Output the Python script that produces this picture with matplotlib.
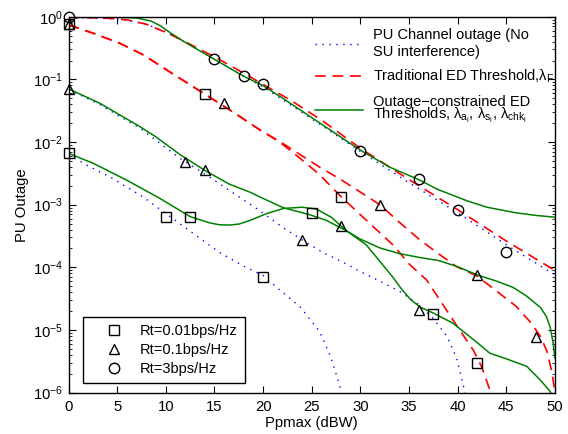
import numpy as np
import matplotlib
matplotlib.use("Agg")
import matplotlib.pyplot as plt

plt.rcParams['font.family'] = ['Liberation Sans', 'DejaVu Sans']
plt.rcParams['mathtext.fontset'] = 'custom'
plt.rcParams['mathtext.rm'] = 'Liberation Sans'
plt.rcParams['mathtext.it'] = 'Liberation Sans'
plt.rcParams['mathtext.bf'] = 'Liberation Sans:bold'

# ---------------- data (x in dBW, outage given as log10 values) -------------
# Rt = 3 bps/Hz
x_rt3_blue = [0, 2, 4, 6, 8, 10, 12, 15, 18, 20, 25, 30, 35, 40, 45, 50]
lg_rt3_blue = [-0.02, -0.022, -0.03, -0.055, -0.12, -0.24, -0.41, -0.68, -0.95, -1.12, -1.63, -2.15, -2.65, -3.13, -3.64, -4.12]
x_rt3_red = [0, 2, 4, 6, 8, 10, 12, 15, 18, 20, 23, 26, 30, 35, 40, 45, 50]
lg_rt3_red = [-0.012, -0.015, -0.025, -0.05, -0.12, -0.25, -0.4, -0.64, -0.9, -1.08, -1.35, -1.65, -2.1, -2.6, -3.08, -3.58, -4.05]
x_rt3_green = [0, 4, 7, 8.5, 9.5, 10.5, 12, 15, 18, 20, 22, 25, 30, 33, 36, 38, 41, 43, 46, 48, 50]
lg_rt3_green = [-0.005, -0.007, -0.02, -0.07, -0.15, -0.26, -0.41, -0.68, -0.95, -1.1, -1.3, -1.61, -2.13, -2.4, -2.6, -2.76, -2.94, -3.04, -3.13, -3.17, -3.2]

# Rt = 0.1 bps/Hz
x_rt01_blue = [0, 3.2, 7.35, 11.45, 14.2, 17, 19.7, 22, 24, 26, 28.6, 30, 32, 34, 35.8, 37.5, 38.9, 39.9, 40.6, 40.9]
lg_rt01_blue = [-1.16, -1.4, -1.78, -2.26, -2.53, -2.82, -3.1, -3.36, -3.56, -3.75, -3.95, -4.07, -4.22, -4.38, -4.57, -4.82, -5.1, -5.45, -5.9, -6.1]
x_rt01_red = [0, 2.55, 5.3, 7.7, 10.4, 13.85, 16.9, 19.7, 21.7, 23.8, 25.8, 28, 30, 32, 34, 36.1, 38, 39.9, 42, 44, 46, 47.5, 48.5, 49.2, 49.7, 50]
lg_rt01_red = [-0.13, -0.265, -0.425, -0.61, -0.88, -1.22, -1.52, -1.81, -1.99, -2.2, -2.4, -2.6, -2.8, -3.0, -3.28, -3.56, -3.78, -3.99, -4.14, -4.38, -4.62, -4.88, -5.1, -5.35, -5.69, -6.0]
x_rt01_green = [0, 3.2, 7.35, 9, 11.45, 14.2, 16.5, 18.65, 20, 22.1, 24.8, 26.5, 28.6, 30, 32, 34, 36, 38, 40, 42, 44, 45.7, 47.1, 48.5, 49.1, 49.5, 49.8, 50]
lg_rt01_green = [-1.15, -1.38, -1.755, -1.92, -2.2, -2.47, -2.67, -2.8, -2.9, -3.05, -3.16, -3.25, -3.42, -3.55, -3.69, -3.78, -3.84, -3.89, -3.99, -4.12, -4.22, -4.32, -4.46, -4.64, -4.78, -4.95, -5.2, -5.45]

# Rt = 0.01 bps/Hz
x_rt001_blue = [0, 2, 4.3, 7.7, 10.8, 13, 15.5, 18, 20, 21.7, 23.8, 25.8, 27, 27.8, 28.1]
lg_rt001_blue = [-2.2, -2.38, -2.56, -2.88, -3.23, -3.48, -3.76, -3.98, -4.13, -4.36, -4.63, -5.02, -5.45, -5.85, -6.05]
x_rt001_red = [0, 2.55, 5.3, 7.7, 10.4, 13.85, 16.9, 19.7, 21.7, 23.8, 25.8, 28, 30, 33.4, 35.1, 36.8, 38.5, 40.2, 41.6, 42.5, 43.4, 43.6]
lg_rt001_red = [-0.13, -0.265, -0.425, -0.61, -0.88, -1.22, -1.52, -1.81, -2.0, -2.26, -2.52, -2.87, -3.16, -3.65, -3.96, -4.2, -4.6, -5.0, -5.32, -5.6, -6.0, -6.1]
x_rt001_green = [0, 2.55, 6, 9.4, 12.5, 14.5, 15.5, 16.5, 17.5, 18.5, 20.4, 22.1, 24, 25.5, 27, 28.6, 30.6, 32.4, 33.3, 34.2, 35.2, 36.2, 37.5, 39.5, 42, 43.3, 45, 47.1, 48.5, 49.5, 49.8]
lg_rt001_green = [-2.18, -2.34, -2.61, -2.9, -3.19, -3.29, -3.32, -3.325, -3.31, -3.26, -3.14, -3.06, -3.04, -3.07, -3.2, -3.42, -3.64, -3.98, -4.15, -4.34, -4.52, -4.64, -4.73, -4.89, -5.2, -5.37, -5.46, -5.58, -5.8, -5.98, -6.1]

# simulation markers
sq_x = [0, 0, 10, 12.5, 14, 20, 25, 28, 37.5, 42]
sq_y = [0.765, 6.8e-3, 6.4e-4, 6.4e-4, 0.058, 6.9e-5, 7.5e-4, 1.34e-3, 1.8e-5, 3.0e-6]
tri_x = [0, 0, 12, 14, 16, 24, 28, 32, 36, 42, 48]
tri_y = [0.765, 0.07, 4.8e-3, 3.6e-3, 0.0415, 2.7e-4, 4.6e-4, 9.9e-4, 2.1e-5, 7.6e-5, 7.7e-6]
circ_x = [0, 15, 18, 20, 30, 36, 40, 45]
circ_y = [1.0, 0.21, 0.115, 0.084, 7.3e-3, 2.57e-3, 8.2e-4, 1.74e-4]

xticks = [0, 5, 10, 15, 20, 25, 30, 35, 40, 45, 50]

# ---------------- figure -----------------
fig = plt.figure(figsize=(5.68, 4.34), dpi=100)
ax = fig.add_axes([0.1206, 0.0952, 0.8565, 0.8663])

blue_style = dict(color='#0000ff', lw=1.0, linestyle=(0, (1, 4)))
red_style = dict(color='#ff0000', lw=1.2, linestyle=(0, (6.5, 4)))
green_style = dict(color='#008000', lw=1.1, linestyle='-')

def pw(lg):
    return 10.0 ** np.asarray(lg)

hb, = ax.plot(x_rt3_blue, pw(lg_rt3_blue), **blue_style)
ax.plot(x_rt01_blue, pw(lg_rt01_blue), **blue_style)
ax.plot(x_rt001_blue, pw(lg_rt001_blue), **blue_style)
hr, = ax.plot(x_rt3_red, pw(lg_rt3_red), **red_style)
ax.plot(x_rt01_red, pw(lg_rt01_red), **red_style)
ax.plot(x_rt001_red, pw(lg_rt001_red), **red_style)
hg, = ax.plot(x_rt3_green, pw(lg_rt3_green), **green_style)
ax.plot(x_rt01_green, pw(lg_rt01_green), **green_style)
ax.plot(x_rt001_green, pw(lg_rt001_green), **green_style)

mk = dict(linestyle='none', mfc='none', mec='black', mew=1.0, clip_on=False, zorder=5)
hs, = ax.plot(sq_x, sq_y, marker='s', ms=6.5, **mk)
ht, = ax.plot(tri_x, tri_y, marker='^', ms=7.5, **mk)
hc, = ax.plot(circ_x, circ_y, marker='o', ms=7.5, **mk)

ax.set_yscale('log')
ax.set_xlim(0, 50)
ax.set_ylim(1e-6, 1)
ax.set_xticks(xticks)
ax.set_xticklabels([str(v) for v in xticks])
ax.tick_params(which='both', direction='in', top=True, right=True, labelsize=10.7)
ax.tick_params(which='major', length=5, width=0.8)
ax.tick_params(which='minor', length=2.5, width=0.6)
ax.tick_params(axis='x', pad=5)
ax.tick_params(axis='y', pad=4)
for s in ax.spines.values():
    s.set_linewidth(1.0)

ax.set_xlabel('Ppmax (dBW)', fontsize=10.7, labelpad=2)
ax.set_ylabel('PU Outage', fontsize=10.7, labelpad=3)

leg1 = ax.legend([hb, hr, hg],
                 ['PU Channel outage (No\nSU interference)',
                  'Traditional ED Threshold,λ$_\\mathrm{F}$',
                  'Outage\u2212constrained ED\nThresholds, λ$_{\\mathrm{a}_\\mathrm{i}}$, λ$_{\\mathrm{s}_\\mathrm{i}}$, λ$_{\\mathrm{chk}_\\mathrm{i}}$'],
                 loc='upper left', bbox_to_anchor=(0.507, 0.969), frameon=False,
                 fontsize=10.5, handlelength=3.3, handletextpad=0.68, borderpad=0,
                 borderaxespad=0, labelspacing=0.65)
leg1.get_texts()[2].set_linespacing(0.75)
ax.add_artist(leg1)

leg2 = ax.legend([hs, ht, hc], ['Rt=0.01bps/Hz', 'Rt=0.1bps/Hz', 'Rt=3bps/Hz'],
                 loc='lower left', bbox_to_anchor=(0.029, 0.027), borderaxespad=0,
                 fontsize=10.5, handlelength=3.4, handletextpad=0.1, borderpad=0.45,
                 labelspacing=0.35, fancybox=False, framealpha=1, edgecolor='black')
leg2.get_frame().set_linewidth(1.0)

fig.savefig('out.png', dpi=100)
